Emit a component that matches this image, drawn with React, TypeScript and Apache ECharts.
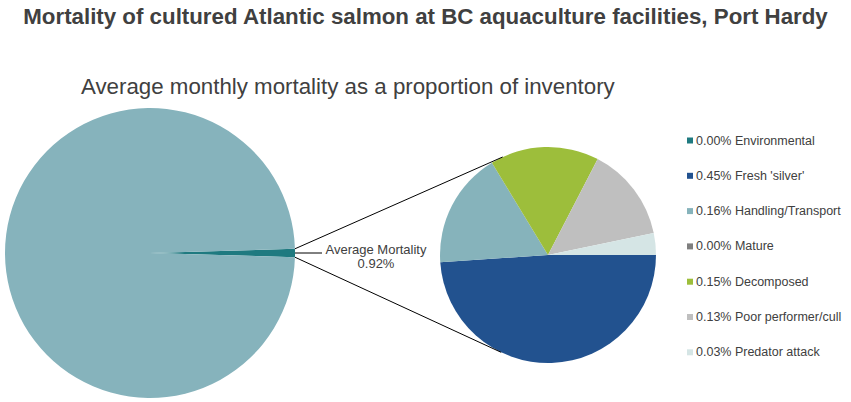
import { useEffect, useRef } from "react";
import * as echarts from "echarts";

const TITLE =
  "Mortality of cultured Atlantic salmon at BC aquaculture facilities, Port Hardy";
const SUBTITLE = "Average monthly mortality as a proportion of inventory";

// breakdown of the average mortality (percent of inventory)
const CAUSES = [
  "Environmental",
  "Fresh 'silver'",
  "Handling/Transport",
  "Mature",
  "Decomposed",
  "Poor performer/cull",
  "Predator attack",
];
const CAUSE_VALUES = [0.0, 0.45, 0.16, 0.0, 0.15, 0.13, 0.03];
const CAUSE_COLORS = [
  "#1f7a80",
  "#22528f",
  "#86b3bb",
  "#7f7f7f",
  "#9dbe3b",
  "#bfbfbf",
  "#d5e5e5",
];

const AVG_MORTALITY = 0.92;
const SURVIVING = 100 - AVG_MORTALITY;

const FONT = "Liberation Sans, Arial, sans-serif";
const TEXT = "#404040";

// layout
const BIG = { cx: 150, cy: 253, r: 145 };
const SMALL = { cx: 548, cy: 255, r: 108 };

export default function App() {
  const ref = useRef<HTMLDivElement | null>(null);

  useEffect(() => {
    const el = ref.current;
    if (!el) {
      return;
    }
    document.body.style.margin = "0";

    const chart = echarts.init(el, null, { renderer: "svg" });

    const halfSlice = (AVG_MORTALITY / 100) * 180;
    const tip = { x: BIG.cx + BIG.r, y: BIG.cy };

    // tangent points on the small pie seen from the tip of the big pie's slice
    const dx = tip.x - SMALL.cx;
    const dy = tip.y - SMALL.cy;
    const d = Math.hypot(dx, dy);
    const base = Math.atan2(dy, dx);
    const off = Math.acos(SMALL.r / d);
    const tangent = (sign: number) => ({
      x: SMALL.cx + SMALL.r * Math.cos(base + sign * off),
      y: SMALL.cy + SMALL.r * Math.sin(base + sign * off),
    });
    const top = tangent(1);
    const bottom = tangent(-1);
    const edgeY = (a: number) => BIG.cy - BIG.r * Math.sin((a * Math.PI) / 180);
    const edgeX = (a: number) => BIG.cx + BIG.r * Math.cos((a * Math.PI) / 180);

    const total = CAUSE_VALUES.reduce((s, v) => s + v, 0);

    chart.setOption({
      animation: false,
      textStyle: { fontFamily: FONT },
      title: [
        {
          text: TITLE,
          left: "center",
          top: 0,
          textStyle: { fontFamily: FONT, fontSize: 22.3, fontWeight: "bold", color: TEXT },
        },
        {
          text: SUBTITLE,
          left: 76,
          top: 70,
          textStyle: { fontFamily: FONT, fontSize: 22.3, fontWeight: "normal", color: TEXT },
        },
      ],
      legend: {
        orient: "vertical",
        left: 682,
        top: 129,
        itemWidth: 6,
        itemHeight: 6,
        itemGap: 22.3,
        icon: "rect",
        data: CAUSES,
        selectedMode: false,
        textStyle: { fontFamily: FONT, fontSize: 12.5, color: TEXT, padding: [0, 0, 0, -2] },
        formatter: (name: string) => {
          const i = CAUSES.indexOf(name);
          return `${CAUSE_VALUES[i].toFixed(2)}% ${name}`;
        },
      },
      series: [
        {
          type: "pie",
          center: [BIG.cx, BIG.cy],
          radius: BIG.r,
          startAngle: halfSlice,
          clockwise: true,
          silent: true,
          label: { show: false },
          labelLine: { show: false },
          data: [
            { name: "Average Mortality", value: AVG_MORTALITY, itemStyle: { color: "#1f7a80" } },
            { name: "Surviving", value: SURVIVING, itemStyle: { color: "#86b3bc" } },
          ],
        },
        {
          type: "pie",
          center: [SMALL.cx, SMALL.cy],
          radius: SMALL.r,
          startAngle: 0,
          clockwise: true,
          silent: true,
          minAngle: 0,
          stillShowZeroSum: false,
          label: { show: false },
          labelLine: { show: false },
          data: CAUSES.map((name, i) => ({
            name,
            value: (CAUSE_VALUES[i] / total) * AVG_MORTALITY,
            itemStyle: { color: CAUSE_COLORS[i] },
          })),
        },
      ],
      graphic: [
        {
          type: "line",
          shape: { x1: edgeX(halfSlice), y1: edgeY(halfSlice), x2: top.x, y2: top.y },
          style: { stroke: "#000", lineWidth: 1 },
          z: 10,
        },
        {
          type: "line",
          shape: { x1: edgeX(-halfSlice), y1: edgeY(-halfSlice), x2: bottom.x, y2: bottom.y },
          style: { stroke: "#000", lineWidth: 1 },
          z: 10,
        },
        {
          type: "line",
          shape: { x1: tip.x, y1: tip.y, x2: tip.x + 27, y2: tip.y },
          style: { stroke: "#000", lineWidth: 1 },
          z: 10,
        },
        {
          type: "text",
          x: 376,
          y: 256,
          style: {
            text: `Average Mortality\n${AVG_MORTALITY.toFixed(2)}%`,
            font: `13px ${FONT}`,
            fill: TEXT,
            align: "center",
            verticalAlign: "middle",
            lineHeight: 14,
          },
          z: 10,
        },
      ],
    });

    return () => {
      chart.dispose();
    };
  }, []);

  return <div ref={ref} style={{ width: 851, height: 402 }} />;
}
